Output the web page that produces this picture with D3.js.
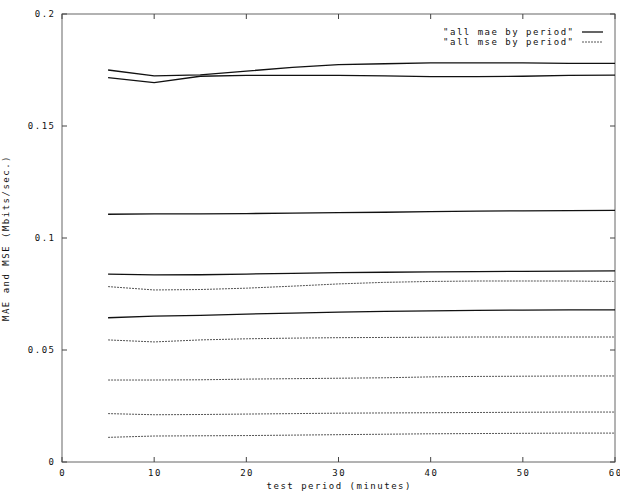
<!DOCTYPE html>
<html>
<head>
<meta charset="utf-8">
<script src="https://cdn.jsdelivr.net/npm/d3@7"></script>
<style>
  body { margin: 0; background: #fff; }
  text { font-family: "DejaVu Sans Mono", monospace; font-size: 9px; letter-spacing: 1.5px; fill: #111; }
</style>
</head>
<body>
<div id="chart"></div>
<script>
// x values (minutes)
const periods = [5, 10, 15, 20, 25, 30, 35, 40, 45, 50, 55, 60];

// "all mae by period" blocks (solid)
const maeBlocks = [
  [0.1750, 0.1724, 0.1728, 0.1745, 0.1762, 0.1774, 0.1778, 0.1782, 0.1782, 0.1782, 0.1780, 0.1780],
  [0.1716, 0.1694, 0.1722, 0.1726, 0.1726, 0.1726, 0.1724, 0.1720, 0.1720, 0.1722, 0.1726, 0.1727],
  [0.1106, 0.1108, 0.1108, 0.1109, 0.1111, 0.1113, 0.1115, 0.1118, 0.1120, 0.1121, 0.1122, 0.1123],
  [0.0839, 0.0835, 0.0836, 0.0839, 0.0842, 0.0845, 0.0847, 0.0849, 0.0850, 0.0851, 0.0852, 0.0853],
  [0.0644, 0.0651, 0.0655, 0.0660, 0.0665, 0.0669, 0.0672, 0.0675, 0.0677, 0.0678, 0.0679, 0.0679]
];

// "all mse by period" blocks (dotted)
const mseBlocks = [
  [0.0783, 0.0768, 0.0770, 0.0776, 0.0785, 0.0795, 0.0802, 0.0806, 0.0808, 0.0808, 0.0808, 0.0806],
  [0.0545, 0.0536, 0.0545, 0.0550, 0.0553, 0.0555, 0.0556, 0.0557, 0.0558, 0.0558, 0.0558, 0.0558],
  [0.0366, 0.0366, 0.0367, 0.0370, 0.0372, 0.0374, 0.0376, 0.0380, 0.0382, 0.0383, 0.0384, 0.0384],
  [0.0216, 0.0211, 0.0212, 0.0214, 0.0216, 0.0218, 0.0219, 0.0220, 0.0221, 0.0222, 0.0223, 0.0223],
  [0.0110, 0.0116, 0.0117, 0.0118, 0.0120, 0.0122, 0.0124, 0.0126, 0.0127, 0.0128, 0.0129, 0.0129]
];

const xTicks = [0, 10, 20, 30, 40, 50, 60];
const yTicks = [0, 0.05, 0.1, 0.15, 0.2];
const yTickLabels = ["0", "0.05", "0.1", "0.15", "0.2"];
const legendLabels = ['"all mae by period"', '"all mse by period"'];

const width = 620, height = 492;
const padL = 62, padR = 615, padT = 14, padB = 462;
const ls = 1.5; // letter spacing, trailing gap to compensate when centring / right aligning

const x = d3.scaleLinear().domain([0, 60]).range([padL, padR]);
const y = d3.scaleLinear().domain([0, 0.2]).range([padB, padT]);

const svg = d3.select("#chart").append("svg")
  .attr("width", width)
  .attr("height", height);

// frame
svg.append("rect")
  .attr("x", padL).attr("y", padT)
  .attr("width", padR - padL).attr("height", padB - padT)
  .attr("fill", "none").attr("stroke", "#666").attr("stroke-width", 1);

// ticks, mirrored on all sides
const tickLen = 5;
xTicks.forEach(t => {
  svg.append("line").attr("x1", x(t)).attr("x2", x(t)).attr("y1", padB).attr("y2", padB - tickLen).attr("stroke", "#444");
  svg.append("line").attr("x1", x(t)).attr("x2", x(t)).attr("y1", padT).attr("y2", padT + tickLen).attr("stroke", "#444");
  svg.append("text").attr("x", x(t) + ls / 2).attr("y", padB + 14).attr("text-anchor", "middle").text(t);
});
yTicks.forEach((t, i) => {
  svg.append("line").attr("x1", padL).attr("x2", padL + tickLen).attr("y1", y(t)).attr("y2", y(t)).attr("stroke", "#444");
  svg.append("line").attr("x1", padR).attr("x2", padR - tickLen).attr("y1", y(t)).attr("y2", y(t)).attr("stroke", "#444");
  svg.append("text").attr("x", padL - 8 + ls).attr("y", y(t) + 3).attr("text-anchor", "end").text(yTickLabels[i]);
});

// axis titles
svg.append("text")
  .attr("x", (padL + padR) / 2 + ls / 2).attr("y", 489)
  .attr("text-anchor", "middle")
  .text("test period (minutes)");
svg.append("text")
  .attr("transform", `translate(9,${(padT + padB) / 2}) rotate(-90)`)
  .attr("text-anchor", "middle")
  .text("MAE and MSE (Mbits/sec.)");

const line = d3.line()
  .x((d, i) => x(periods[i]))
  .y(d => y(d));

svg.selectAll(".mae")
  .data(maeBlocks)
  .join("path")
  .attr("class", "mae")
  .attr("d", line)
  .attr("fill", "none")
  .attr("stroke", "#111")
  .attr("stroke-width", 1.3);

svg.selectAll(".mse")
  .data(mseBlocks)
  .join("path")
  .attr("class", "mse")
  .attr("d", line)
  .attr("fill", "none")
  .attr("stroke", "#555")
  .attr("stroke-width", 1)
  .attr("stroke-dasharray", "2,1");

// legend
legendLabels.forEach((lab, i) => {
  const ly = 32 + i * 10;
  svg.append("text").attr("x", 573 + ls).attr("y", ly + 3).attr("text-anchor", "end").text(lab);
  svg.append("line")
    .attr("x1", 582).attr("x2", 603).attr("y1", ly).attr("y2", ly)
    .attr("stroke", i === 0 ? "#111" : "#555")
    .attr("stroke-width", i === 0 ? 1.3 : 1)
    .attr("stroke-dasharray", i === 0 ? null : "2,1");
});
</script>
</body>
</html>
